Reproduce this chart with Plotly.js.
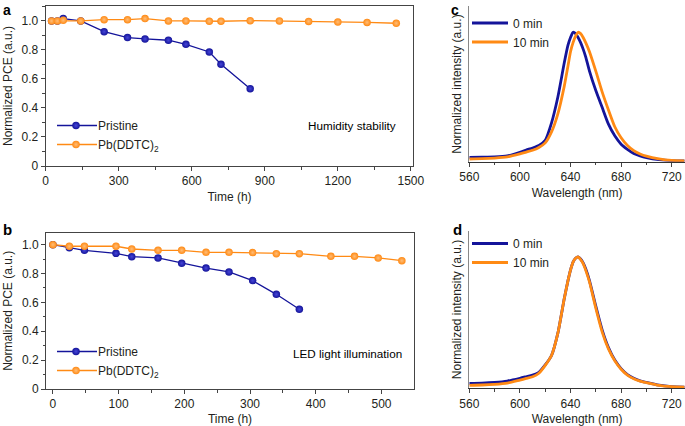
<!DOCTYPE html>
<html>
<head>
<meta charset="utf-8">
<script src="https://cdn.plot.ly/plotly-3.0.1.min.js"></script>
<style>
  html, body { margin: 0; padding: 0; background: #fff; }
  #chart { width: 685px; height: 426px; }
</style>
</head>
<body>
<div id="chart"></div>
<script>
// panel a: humidity stability
const timeA_pristine = [24, 48, 72, 144, 240, 336, 408, 504, 576, 672, 720, 840];
const pceA_pristine = [1.0, 1.0, 1.016, 1.0, 0.926, 0.885, 0.876, 0.867, 0.839, 0.786, 0.701, 0.533];
const timeA_ddtc = [24, 48, 72, 144, 240, 336, 408, 504, 576, 672, 720, 840, 960, 1080, 1200, 1320, 1440];
const pceA_ddtc = [1.0, 1.0, 1.005, 1.0, 1.009, 1.009, 1.016, 1.0, 1.0, 0.998, 0.998, 1.002, 1.0, 0.997, 0.993, 0.99, 0.984];

// panel b: LED light illumination
const timeB_pristine = [0, 25, 48, 96, 120, 160, 196, 233, 268, 304, 340, 375];
const pceB_pristine = [1.0, 0.979, 0.961, 0.94, 0.917, 0.908, 0.871, 0.838, 0.811, 0.751, 0.656, 0.552];
const timeB_ddtc = [0, 25, 48, 96, 120, 160, 196, 233, 268, 304, 340, 375, 423, 459, 495, 531];
const pceB_ddtc = [1.0, 0.989, 0.989, 0.989, 0.97, 0.961, 0.961, 0.947, 0.947, 0.945, 0.938, 0.938, 0.919, 0.919, 0.908, 0.889];

// panels c and d: PL spectra
const wavelength = [560, 570, 580, 590, 600, 605, 610, 615, 620, 625, 630, 635, 638, 640, 642, 644, 646, 648, 650, 652, 655, 660, 665, 670, 675, 680, 685, 690, 695, 700, 710, 720, 730];
const plC_0min = [0.034, 0.035, 0.037, 0.045, 0.073, 0.09, 0.106, 0.125, 0.165, 0.30, 0.50, 0.76, 0.90, 0.96, 1.0, 0.99, 0.96, 0.92, 0.87, 0.81, 0.70, 0.55, 0.42, 0.29, 0.20, 0.135, 0.095, 0.063, 0.045, 0.032, 0.016, 0.009, 0.006];
const plC_10min = [0.021, 0.023, 0.028, 0.037, 0.06, 0.074, 0.088, 0.11, 0.145, 0.23, 0.37, 0.58, 0.74, 0.85, 0.92, 0.97, 1.0, 0.99, 0.96, 0.92, 0.85, 0.70, 0.54, 0.40, 0.27, 0.185, 0.125, 0.085, 0.06, 0.043, 0.022, 0.01, 0.006];
const plD_0min = [0.038, 0.04, 0.045, 0.055, 0.076, 0.088, 0.10, 0.122, 0.178, 0.25, 0.42, 0.68, 0.82, 0.90, 0.96, 0.99, 1.0, 0.985, 0.955, 0.91, 0.82, 0.625, 0.445, 0.31, 0.215, 0.15, 0.105, 0.076, 0.057, 0.045, 0.024, 0.013, 0.009];
const plD_10min = [0.023, 0.025, 0.03, 0.04, 0.063, 0.075, 0.088, 0.115, 0.175, 0.25, 0.42, 0.68, 0.82, 0.90, 0.96, 0.99, 1.0, 0.98, 0.95, 0.90, 0.81, 0.61, 0.43, 0.30, 0.21, 0.145, 0.10, 0.073, 0.055, 0.043, 0.022, 0.012, 0.008];

const pceTicks = [0, 0.2, 0.4, 0.6, 0.8, 1.0];
const pceTickText = ['0', '0.2', '0.4', '0.6', '0.8', '1.0'];
const timeTicksA = [0, 300, 600, 900, 1200, 1500];
const timeTicksB = [0, 100, 200, 300, 400, 500];
const wlTicks = [560, 600, 640, 680, 720];

const blue = '#14149a';
const orange = '#ff8a14';
const ink = '#231f20';
const axisCol = '#444';
const W = 685, H = 426;

// pixel box -> paper domain
const dx = (a, b) => [a / W, b / W];
const dy = (top, bottom) => [1 - bottom / H, 1 - top / H];

const pceTrace = (x, y, name, color, xa, ya, leg) => ({
  x: x, y: y, name: name, type: 'scatter', mode: 'lines+markers',
  xaxis: xa, yaxis: ya, legend: leg,
  line: {color: color, width: 1.3},
  marker: {color: color, size: 7.5, gradient: {type: 'radial', color: color == blue ? '#4646d8' : '#ffbd78'},
    line: {width: 0}}
});

const plTrace = (y, name, color, xa, ya, leg) => ({
  x: wavelength, y: y, name: name, type: 'scatter', mode: 'lines',
  xaxis: xa, yaxis: ya, legend: leg,
  line: {color: color, width: 2.8, shape: 'spline', smoothing: 0.6}
});

var data = [
  pceTrace(timeA_pristine, pceA_pristine, 'Pristine', blue, 'x', 'y', 'legend'),
  pceTrace(timeA_ddtc, pceA_ddtc, 'Pb(DDTC)<sub>2</sub>', orange, 'x', 'y', 'legend'),
  pceTrace(timeB_pristine, pceB_pristine, 'Pristine', blue, 'x2', 'y2', 'legend2'),
  pceTrace(timeB_ddtc, pceB_ddtc, 'Pb(DDTC)<sub>2</sub>', orange, 'x2', 'y2', 'legend2'),
  plTrace(plC_0min, '0 min', blue, 'x3', 'y3', 'legend3'),
  plTrace(plC_10min, '10 min', orange, 'x3', 'y3', 'legend3'),
  plTrace(plD_0min, '0 min', blue, 'x4', 'y4', 'legend4'),
  plTrace(plD_10min, '10 min', orange, 'x4', 'y4', 'legend4')
];

const titleFont = {size: 12, color: ink, weight: 'normal'};

const boxX = (dom, range, ticks, minor, title, yname) => ({
  domain: dom, range: range, anchor: yname,
  tickmode: 'array', tickvals: ticks, ticks: 'outside', ticklen: 4, tickcolor: axisCol,
  minor: {tickmode: 'linear', tick0: 0, dtick: minor, ticks: 'outside', ticklen: 2.5, tickcolor: axisCol},
  showline: true, linecolor: axisCol, linewidth: 1, mirror: true,
  showgrid: false, zeroline: false,
  title: {text: title, standoff: 5, font: titleFont}
});

const pceY = (dom, range, xname) => ({
  domain: dom, range: range, anchor: xname,
  tickmode: 'array', tickvals: pceTicks, ticktext: pceTickText,
  ticks: 'outside', ticklen: 4, tickcolor: axisCol,
  minor: {tickmode: 'linear', tick0: 0, dtick: 0.1, ticks: 'outside', ticklen: 2.5, tickcolor: axisCol},
  showline: true, linecolor: axisCol, linewidth: 1, mirror: true,
  showgrid: false, zeroline: false,
  title: {text: 'Normalized PCE (a.u.)', standoff: 6, font: titleFont}
});

const wlX = (dom, yname) => ({
  domain: dom, range: [560, 730.5], anchor: yname,
  tickmode: 'array', tickvals: wlTicks, ticks: 'outside', ticklen: 4, tickcolor: axisCol,
  minor: {tickmode: 'linear', tick0: 560, dtick: 20, ticks: 'outside', ticklen: 2.5, tickcolor: axisCol},
  showline: true, linecolor: '#333', linewidth: 1,
  showgrid: false, zeroline: false,
  title: {text: 'Wavelength (nm)', standoff: 5, font: titleFont}
});

const intY = (dom, xname) => ({
  domain: dom, range: [0, 1.2], anchor: xname,
  showticklabels: false, ticks: '',
  showline: true, linecolor: '#888', linewidth: 1,
  showgrid: false, zeroline: false,
  title: {text: 'Normalized intensity (a.u.)', standoff: 4, font: titleFont}
});

const legendAt = (x, y, iw) => ({
  x: x / W, y: 1 - y / H, xanchor: 'left', yanchor: 'top', itemwidth: iw,
  bgcolor: 'rgba(0,0,0,0)', font: {size: 12, color: ink}, tracegroupgap: 0
});

const label = (text, x, y, size, bold, anchor, va) => ({
  text: bold ? '<b>' + text + '</b>' : text, xref: 'paper', yref: 'paper',
  x: x / W, y: 1 - y / H, xanchor: anchor, yanchor: va || 'middle',
  showarrow: false, font: {size: size, color: '#000'}
});

var layout = {
  width: W, height: H,
  margin: {l: 0, r: 0, t: 0, b: 0},
  paper_bgcolor: '#fff', plot_bgcolor: '#fff',
  font: {family: 'Liberation Sans, Arial, sans-serif', size: 12, color: ink},
  showlegend: true,
  xaxis: boxX(dx(45.7, 413.3), [0, 1510], timeTicksA, 150, 'Time (h)', 'y'),
  yaxis: pceY(dy(6, 166), [0, 1.103], 'x'),
  xaxis2: boxX(dx(46, 414), [-10.5, 549.5], timeTicksB, 50, 'Time (h)', 'y2'),
  yaxis2: pceY(dy(232.7, 389), [0, 1.083], 'x2'),
  xaxis3: wlX(dx(469.3, 685), 'y3'),
  yaxis3: intY(dy(6.4, 161.7), 'x3'),
  xaxis4: wlX(dx(469.3, 685), 'y4'),
  yaxis4: intY(dy(230.7, 388.3), 'x4'),
  legend: legendAt(54, 111, 34),
  legend2: legendAt(54, 337, 34),
  legend3: legendAt(469, 8.5, 34),
  legend4: legendAt(469, 229, 34),
  annotations: [
    label('Humidity stability', 398, 125, 11.7, false, 'right'),
    label('LED light illumination', 404, 353, 11.7, false, 'right'),
    label('a', 1, 0, 14, true, 'left', 'top'),
    label('b', 1, 229, 15, true, 'left'),
    label('c', 449, 0, 14, true, 'left', 'top'),
    label('d', 451, 229, 15, true, 'left')
  ]
};

Plotly.newPlot('chart', data, layout, {displayModeBar: false, staticPlot: true}).then(gd => {
  // longer legend line samples, as in the figure
  gd.querySelectorAll('.legendlines path').forEach(p => {
    const thick = parseFloat(p.style.strokeWidth) > 2;
    p.setAttribute('d', thick ? 'M3,0h36' : 'M3,0h40');
  });
});
</script>
</body>
</html>
